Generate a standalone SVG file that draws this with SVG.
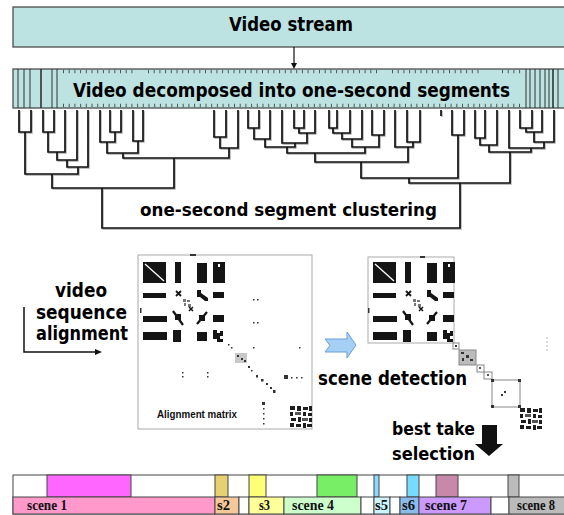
<svg xmlns="http://www.w3.org/2000/svg" xmlns:xlink="http://www.w3.org/1999/xlink" width="564" height="515" viewBox="0 0 564 515">
  <style>
    .box { fill: #bde2e2; stroke: #4d4d4d; stroke-width: 1.3; }
    .t { font-family: "DejaVu Sans", Verdana, sans-serif; font-weight: bold; fill: #000; }
    .sc { font-family: "Liberation Serif", "Times New Roman", serif; font-weight: bold; font-size: 14px; fill: #111; }
    .den { fill: none; stroke: #111; stroke-width: 1.7; stroke-linejoin: miter; }
    .den-sh { fill: none; stroke: #aaa; stroke-width: 1.4; }
    .tick { stroke: #555; stroke-width: 3.5; stroke-dasharray: 1 4.7; }
    .vl { stroke: #333; stroke-width: 1; }
    .mat { fill: #fff; stroke: #aaa; stroke-width: 1; }
    .seg { stroke: #444; stroke-width: 1; }
    .cell { fill: #fff; stroke: #888; stroke-width: 1; }
  </style>
  <defs>
    <!-- dendrogram of the one-second segments -->
    <path id="tree" d="
      M19 110 V132 H31 V110
      M43 110 V132 H54 V110
      M48 132 V152 H65 V110
      M57 152 V160 H77 V110
      M67 160 V167 H88 V110
      M25 132 V174 H78 V167
      M110 110 V132 H121 V110
      M100 110 V142 H115 V132
      M133 110 V141 H143 V110
      M107 142 V153 H138 V141
      M214 110 V137 H226 V110
      M220 137 V148 H238 V110
      M123 153 V158 H229 V148
      M52 174 V188 H174 V158
      M248 110 V128 H259 V110
      M254 128 V139 H270 V110
      M294 110 V128 H304 V110
      M299 128 V133 H315 V110
      M282 110 V143 H307 V133
      M265 139 V147 H295 V143
      M329 110 V128 H337 V110
      M333 128 V133 H350 V110
      M342 133 V139 H362 V110
      M372 110 V135 H384 V110
      M352 139 V147 H379 V135
      M287 147 V153 H365 V147
      M407 110 V142 H420 V110
      M395 110 V147 H413 V142
      M315 153 V162 H408 V147
      M452 110 V135 H464 V110
      M361 162 V178 H458 V135
      M475 110 V138 H485 V110
      M480 138 V145 H497 V110
      M520 110 V128 H532 V110
      M526 128 V132 H542 V110
      M534 132 V142 H554 V110
      M509 110 V148 H544 V142
      M489 145 V152 H531 V148
      M409 178 V183 H510 V152
      M102 188 V228 H460 V183
      M441 110 V116"/>
    <!-- block structure of the similarity matrix -->
    <g id="blocks" fill="#151515">
      <rect x="0" y="0" width="23" height="21"/>
      <path d="M2 2 L21 19" stroke="#fff" stroke-width="1.3"/>
      <rect x="32" y="0" width="6" height="21"/>
      <rect x="54" y="1" width="10" height="20"/>
      <rect x="70" y="0" width="12" height="21"/>
      <rect x="75" y="2" width="2" height="3" fill="#fff"/>
      <rect x="0" y="31" width="23" height="5"/>
      <path d="M33 29 l5 5 M38 29 l-5 5" stroke="#151515" stroke-width="1.8" fill="none"/>
      <path d="M54 28 h4 v3 l7 5 v3 h-3 l-5 -4 h-3 z"/>
      <rect x="70" y="30" width="11" height="6"/>
      <g fill="#777">
        <rect x="40" y="37" width="3" height="3"/>
        <rect x="44" y="38" width="3" height="2"/>
        <rect x="41" y="41" width="2" height="3"/>
        <rect x="45" y="42" width="3" height="3"/>
      </g>
      <path d="M46 45 l4 4 M50 45 l-4 4" stroke="#151515" stroke-width="1.5" fill="none"/>
      <rect x="0" y="54" width="24" height="6"/>
      <path d="M30 49 L40 63" stroke="#151515" stroke-width="2.2" fill="none"/>
      <rect x="32" y="52" width="6" height="6"/>
      <path d="M64 50 L54 62" stroke="#151515" stroke-width="2.2" fill="none"/>
      <rect x="56" y="53" width="6" height="6"/>
      <rect x="70" y="53" width="11" height="7"/>
      <rect x="0" y="70" width="24" height="8"/>
      <rect x="30" y="68" width="8" height="12"/>
      <rect x="54" y="70" width="10" height="9"/>
      <path d="M70 68 h4 v3 h3 v-2 h3 v5 h-3 v3 h3 v3 h-6 v-3 h-4 z"/>
    </g>
    <!-- dense cluster at the end of the diagonal -->
    <g id="cluster" fill="#1e1e1e">
      <rect x="0" y="0" width="5" height="4"/>
      <rect x="7" y="0" width="4" height="5"/>
      <rect x="13" y="1" width="5" height="3"/>
      <rect x="19" y="0" width="3" height="5"/>
      <rect x="0" y="6" width="3" height="4"/>
      <rect x="5" y="6" width="6" height="3" fill="#555"/>
      <rect x="13" y="6" width="3" height="4"/>
      <rect x="18" y="7" width="4" height="3"/>
      <rect x="1" y="12" width="5" height="3"/>
      <rect x="8" y="11" width="3" height="5"/>
      <rect x="12" y="12" width="6" height="3" fill="#555"/>
      <rect x="19" y="12" width="3" height="4"/>
      <rect x="0" y="17" width="4" height="4"/>
      <rect x="6" y="18" width="5" height="3"/>
      <rect x="13" y="17" width="3" height="5"/>
      <rect x="17" y="18" width="5" height="3"/>
    </g>
  </defs>

  <rect width="564" height="515" fill="#fff"/>

  <!-- input video -->
  <g id="stream-box">
    <rect class="box" x="13" y="7" width="552" height="40"/>
    <text class="t" x="229" y="31" font-size="19" textLength="124" lengthAdjust="spacingAndGlyphs">Video stream</text>
  </g>

  <!-- one-second segments -->
  <g id="segments-box">
    <rect class="box" x="13" y="69" width="552" height="39"/>
    <g class="vl">
      <line x1="18" y1="69" x2="18" y2="108"/>
      <line x1="24" y1="69" x2="24" y2="108"/>
      <line x1="30" y1="69" x2="30" y2="108"/>
      <line x1="41" y1="69" x2="41" y2="108" stroke-width="1.6"/>
      <line x1="52" y1="69" x2="52" y2="108"/>
      <line x1="57" y1="69" x2="57" y2="108"/>
      <line x1="526" y1="69" x2="526" y2="108"/>
      <line x1="530" y1="69" x2="530" y2="108"/>
      <line x1="535" y1="69" x2="535" y2="108"/>
      <line x1="540" y1="69" x2="540" y2="108"/>
      <line x1="545" y1="69" x2="545" y2="108"/>
      <line x1="549" y1="69" x2="549" y2="108"/>
      <line x1="553" y1="69" x2="553" y2="108" stroke-width="1.6"/>
      <line x1="558" y1="69" x2="558" y2="108"/>
    </g>
    <g class="tick">
      <line x1="63" y1="71.5" x2="134" y2="71.5"/>
      <line x1="148" y1="71.5" x2="380" y2="71.5"/>
      <line x1="392" y1="71.5" x2="480" y2="71.5"/>
      <line x1="502" y1="71.5" x2="523" y2="71.5"/>
      <line x1="63" y1="105.5" x2="523" y2="105.5"/>
    </g>
    <text class="t" x="73" y="97" font-size="18.8" textLength="437" lengthAdjust="spacingAndGlyphs">Video decomposed into one-second segments</text>
  </g>

  <g id="connectors">
    <!-- stream to segments -->
    <line x1="294" y1="47" x2="294" y2="64" stroke="#111" stroke-width="1.2"/>
    <polygon points="291,63 297,63 294,69" fill="#111"/>
    <!-- clustering tree -->
    <use xlink:href="#tree" class="den-sh" transform="translate(1,1)"/>
    <use xlink:href="#tree" class="den"/>
    <!-- alignment arrow -->
    <path d="M24 307 V352 H96" fill="none" stroke="#111" stroke-width="1.5"/>
    <polygon points="95,349 102,352 95,355" fill="#111"/>
  </g>

  <g id="clustering-label">
    <text class="t" x="140" y="216" font-size="18.5" textLength="297" lengthAdjust="spacingAndGlyphs">one-second segment clustering</text>
  </g>

  <g id="alignment-label">
    <text class="t" x="55" y="297" font-size="19.5" textLength="52" lengthAdjust="spacingAndGlyphs">video</text>
    <text class="t" x="36" y="319" font-size="19.5" textLength="91" lengthAdjust="spacingAndGlyphs">sequence</text>
    <text class="t" x="36" y="340" font-size="19.5" textLength="92" lengthAdjust="spacingAndGlyphs">alignment</text>
  </g>

  <!-- alignment matrix -->
  <g id="matrix-align">
    <rect class="mat" x="138" y="255" width="174" height="174"/>
    <use xlink:href="#blocks" transform="translate(143,262)"/>
    <rect x="190" y="254" width="6" height="2" fill="#333"/>
    <rect x="140" y="308" width="1.5" height="5" fill="#333"/>
    <g fill="#333">
      <rect x="228" y="344" width="1.5" height="1.5"/>
      <rect x="231" y="347" width="1.5" height="1.5"/>
      <rect x="235" y="353" width="12" height="10" fill="#c8c8c8"/>
      <rect x="237" y="355" width="2" height="2"/>
      <rect x="241" y="358" width="2" height="2"/>
      <rect x="244" y="360" width="2" height="2"/>
      <rect x="248" y="366" width="2" height="2"/>
      <rect x="251" y="370" width="1.5" height="1.5"/>
      <rect x="256" y="375" width="2" height="2.5"/>
      <rect x="261" y="379" width="2.5" height="2.5"/>
      <rect x="266" y="383" width="2" height="2"/>
      <rect x="270" y="387" width="2" height="2"/>
      <rect x="273" y="390" width="2.5" height="3"/>
      <rect x="262" y="402" width="3" height="3"/>
      <rect x="263" y="408" width="1.5" height="1.5"/>
      <rect x="263" y="413" width="1.5" height="1.5"/>
      <rect x="263" y="418" width="1.5" height="1.5"/>
      <rect x="263" y="423" width="1.5" height="1.5"/>
      <rect x="284" y="375" width="4" height="4"/>
      <rect x="291" y="377" width="1.5" height="1.5"/>
      <rect x="296" y="377" width="1.5" height="1.5"/>
      <rect x="301" y="377" width="1.5" height="1.5"/>
      <rect x="182" y="372" width="1.5" height="1.5"/>
      <rect x="182" y="376" width="1.5" height="1.5"/>
      <rect x="207" y="372" width="1.5" height="1.5"/>
      <rect x="207" y="376" width="1.5" height="1.5"/>
      <rect x="253" y="299" width="1.5" height="1.5"/>
      <rect x="257" y="299" width="1.5" height="1.5"/>
      <rect x="253" y="322" width="1.5" height="1.5"/>
      <rect x="257" y="322" width="1.5" height="1.5"/>
      <rect x="253" y="347" width="1.5" height="1.5"/>
      <rect x="299" y="347" width="1.5" height="1.5"/>
    </g>
    <use xlink:href="#cluster" transform="translate(290,406)"/>
    <text x="157" y="418" font-family="Liberation Sans, Arial, sans-serif" font-weight="bold" font-size="10.5" fill="#111" textLength="80" lengthAdjust="spacingAndGlyphs">Alignment matrix</text>
  </g>

  <!-- scene detection step -->
  <g id="scene-detect">
    <path d="M325 339 H347 V332 L356 345 L347 358 V352 H325 L330 345.5 Z" fill="#a6cff5" stroke="#6a9fd8" stroke-width="1"/>
    <text class="t" x="318" y="385" font-size="19.5" textLength="149" lengthAdjust="spacingAndGlyphs">scene detection</text>
  </g>

  <!-- matrix with detected scenes -->
  <g id="matrix-scenes">
    <rect class="mat" x="368" y="257" width="86" height="86"/>
    <use xlink:href="#blocks" transform="translate(373,262)"/>
    <rect x="420" y="256" width="5" height="2" fill="#333"/>
    <rect x="368" y="308" width="1.5" height="5" fill="#333"/>
    <rect class="cell" x="453" y="343" width="6" height="6"/>
    <rect x="455" y="345" width="2" height="2" fill="#333"/>
    <rect x="459" y="350" width="17" height="15" fill="#bbb" stroke="#888"/>
    <g fill="#333">
      <rect x="461" y="352" width="3" height="2"/>
      <rect x="466" y="355" width="3" height="3"/>
      <rect x="470" y="359" width="3" height="2"/>
      <rect x="462" y="358" width="2" height="3"/>
    </g>
    <rect class="cell" x="477" y="365" width="7" height="7"/>
    <rect x="479" y="367" width="2" height="2" fill="#555"/>
    <rect class="cell" x="484" y="372" width="8" height="7"/>
    <rect x="487" y="374" width="2" height="2" fill="#555"/>
    <rect class="cell" x="492" y="380" width="28" height="27"/>
    <g fill="#333">
      <rect x="491" y="379" width="3" height="3"/>
      <rect x="518" y="379" width="3" height="3"/>
      <rect x="491" y="405" width="3" height="3"/>
      <rect x="518" y="405" width="3" height="3"/>
      <rect x="504" y="391" width="2" height="2"/>
      <rect x="501" y="394" width="2" height="2"/>
    </g>
    <use xlink:href="#cluster" transform="translate(520,408)"/>
    <line x1="547" y1="337" x2="547" y2="351" stroke="#bbb" stroke-width="1" stroke-dasharray="2 2"/>
  </g>

  <!-- best take selection step -->
  <g id="best-take">
    <text class="t" x="392" y="435" font-size="18.5" textLength="83" lengthAdjust="spacingAndGlyphs">best take</text>
    <text class="t" x="392" y="460" font-size="18.5" textLength="83" lengthAdjust="spacingAndGlyphs">selection</text>
    <path d="M482 425 H497 V444 H503 L489 456 L475 444 H482 Z" fill="#111"/>
  </g>

  <!-- resulting scene timeline -->
  <g id="timeline">
    <rect x="13" y="475" width="552" height="39" fill="#fff" stroke="#444" stroke-width="1"/>
    <g class="seg">
      <rect x="47" y="475" width="84" height="22" fill="#ff66ff"/>
      <rect x="215" y="475" width="13" height="22" fill="#e8d070"/>
      <rect x="249" y="475" width="17" height="22" fill="#ffff77"/>
      <rect x="317" y="475" width="40" height="22" fill="#77ee66"/>
      <rect x="374" y="475" width="5" height="22" fill="#88ddff"/>
      <rect x="407" y="475" width="12" height="22" fill="#77ddff"/>
      <rect x="436" y="475" width="22" height="22" fill="#c888aa"/>
      <rect x="508" y="475" width="11" height="22" fill="#bbbbbb"/>
      <rect x="13" y="497" width="202" height="17" fill="#ff99cc"/>
      <rect x="215" y="497" width="24" height="17" fill="#f5c89a"/>
      <rect x="239" y="497" width="10" height="17" fill="#fff"/>
      <rect x="249" y="497" width="35" height="17" fill="#ffff99"/>
      <rect x="284" y="497" width="77" height="17" fill="#ccffcc"/>
      <rect x="361" y="497" width="13" height="17" fill="#fff"/>
      <rect x="374" y="497" width="16" height="17" fill="#ccf5ff"/>
      <rect x="390" y="497" width="10" height="17" fill="#fff"/>
      <rect x="400" y="497" width="19" height="17" fill="#88bbee"/>
      <rect x="419" y="497" width="72" height="17" fill="#cc99ff"/>
      <rect x="491" y="497" width="18" height="17" fill="#fff"/>
      <rect x="509" y="497" width="56" height="17" fill="#bbbbbb"/>
    </g>
    <text class="sc" x="27" y="510" textLength="40" lengthAdjust="spacingAndGlyphs">scene 1</text>
    <text class="sc" x="217" y="510" textLength="13" lengthAdjust="spacingAndGlyphs">s2</text>
    <text class="sc" x="259" y="510" textLength="11" lengthAdjust="spacingAndGlyphs">s3</text>
    <text class="sc" x="292" y="510" textLength="42" lengthAdjust="spacingAndGlyphs">scene 4</text>
    <text class="sc" x="375" y="510" textLength="13" lengthAdjust="spacingAndGlyphs">s5</text>
    <text class="sc" x="402" y="510" textLength="13" lengthAdjust="spacingAndGlyphs">s6</text>
    <text class="sc" x="425" y="510" textLength="42" lengthAdjust="spacingAndGlyphs">scene 7</text>
    <text class="sc" x="517" y="510" textLength="38" lengthAdjust="spacingAndGlyphs">scene 8</text>
  </g>
</svg>
